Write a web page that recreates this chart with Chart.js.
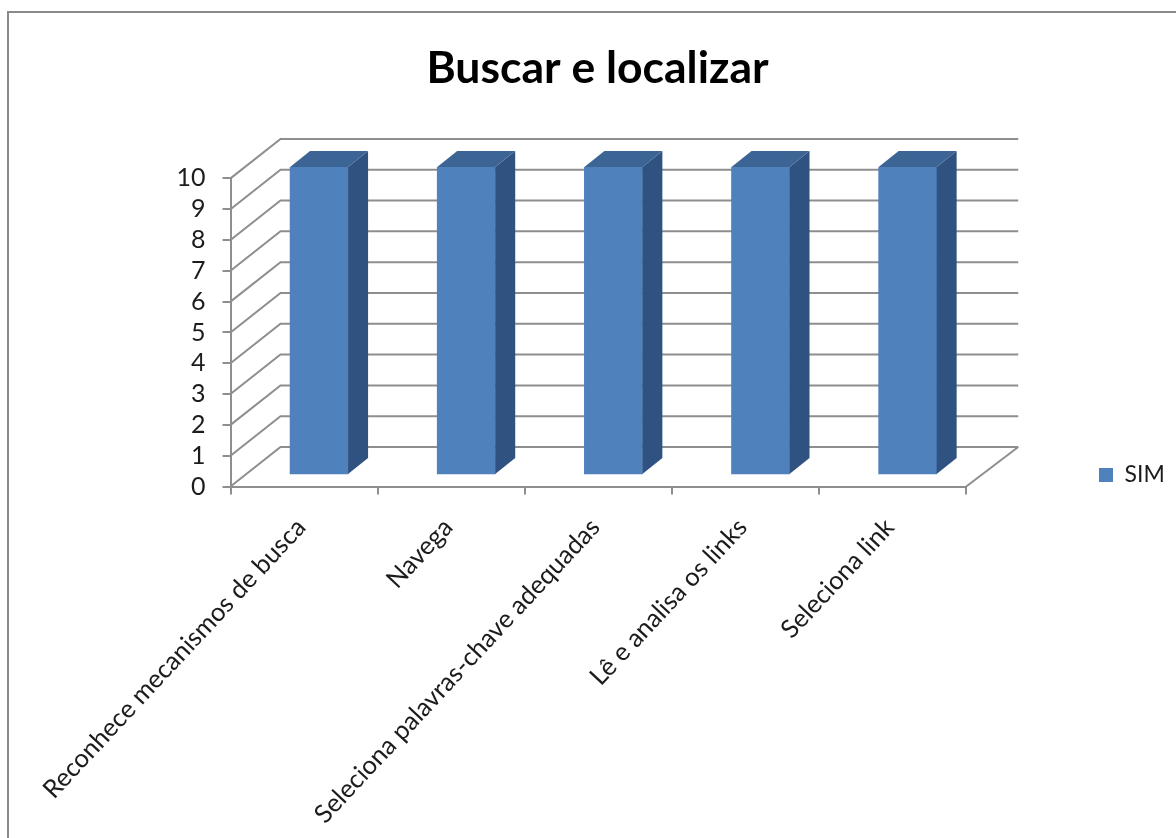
<!DOCTYPE html>
<html><head><meta charset="utf-8">
<style>
html,body{margin:0;padding:0;background:#fff;overflow:hidden}
#frame{position:absolute;left:7px;top:11px;width:1200px;height:900px;border:2px solid #8a8a8a;box-sizing:border-box}
#wrap{position:absolute;left:0;top:0;width:1176px;height:838px}
</style>
<script src="https://cdn.jsdelivr.net/npm/chart.js@4"></script>
</head><body>
<div id="frame"></div>
<div id="wrap"><canvas id="c" width="1176" height="838"></canvas></div>
<script>
const categories = ["Reconhece mecanismos de busca","Navega","Seleciona palavras-chave adequadas","Lê e analisa os links","Seleciona link"];
const simValues = [10,10,10,10,10];
const yTicks = [0,1,2,3,4,5,6,7,8,9,10];
const seriesName = "SIM";
const FONT = "Lato, 'Open Sans', sans-serif";
const GRID = "#8e8e8e", TXT = "#1c1c1c";
const FRONT = "#4F81BD", SIDE = "#2F5280", TOP = "#3C6494";
const WALL = {dx:50, dy:-39.5, rx:52};
const BAR = {sx:15, sy:-11.5, dx:20, dy:-16};

const threeD = {
  id:'threeD',
  afterLayout(chart){
    const lg = chart.legend, w = lg.right - lg.left, h = lg.bottom - lg.top;
    lg.left = 1089; lg.right = lg.left + w;
    lg.top = 475 - h/2; lg.bottom = lg.top + h;
    const t = chart.titleBlock, shift = 597.5 - (t.left + t.right)/2;
    t.left += shift; t.right += shift;
  },
  beforeDatasetsDraw(chart){
    const {ctx, scales:{x,y}} = chart;
    ctx.save();
    ctx.strokeStyle = GRID; ctx.lineWidth = 2;
    yTicks.forEach(v=>{
      const py = y.getPixelForValue(v);
      ctx.beginPath();
      ctx.moveTo(x.left, py);
      ctx.lineTo(x.left+WALL.dx, py+WALL.dy);
      ctx.lineTo(x.right+WALL.rx, py+WALL.dy);
      ctx.stroke();
    });
    const p0 = y.getPixelForValue(0);
    ctx.beginPath();
    ctx.moveTo(x.right, p0);
    ctx.lineTo(x.right+WALL.rx, p0+WALL.dy);
    ctx.stroke();
    ctx.restore();
  },
  beforeDatasetDraw(chart){
    chart.ctx.save();
    chart.ctx.translate(BAR.sx, BAR.sy);
  },
  afterDatasetDraw(chart, args){
    const ctx = chart.ctx;
    args.meta.data.forEach(b=>{
      const l=b.x-b.width/2, r=b.x+b.width/2, t=b.y, bt=b.base;
      ctx.fillStyle = SIDE;
      ctx.beginPath();
      ctx.moveTo(r,t); ctx.lineTo(r+BAR.dx,t+BAR.dy); ctx.lineTo(r+BAR.dx,bt+BAR.dy); ctx.lineTo(r,bt);
      ctx.closePath(); ctx.fill();
      ctx.fillStyle = TOP;
      ctx.beginPath();
      ctx.moveTo(l,t); ctx.lineTo(l+BAR.dx,t+BAR.dy); ctx.lineTo(r+BAR.dx,t+BAR.dy); ctx.lineTo(r,t);
      ctx.closePath(); ctx.fill();
    });
    ctx.restore();
  }
};

new Chart(document.getElementById('c'),{
  type:'bar',
  data:{labels:categories,datasets:[{label:seriesName,data:simValues,backgroundColor:FRONT,barThickness:58}]},
  plugins:[threeD],
  options:{
    responsive:false,animation:false,
    layout:{padding:{left:0,right:124,top:0,bottom:0}},
    plugins:{
      title:{display:true,text:"Buscar e localizar",color:"#000",font:{family:FONT,size:44.5,weight:'bold'},padding:{top:42,bottom:83}},
      legend:{display:true,position:'right',labels:{color:TXT,font:{family:FONT,size:23},boxWidth:14,boxHeight:14,padding:10}},
      tooltip:{enabled:false}
    },
    scales:{
      x:{
        offset:true,
        border:{color:GRID,width:2},
        grid:{drawOnChartArea:false,color:GRID,lineWidth:2,tickLength:8,offset:true},
        ticks:{color:TXT,font:{family:FONT,size:25.5},minRotation:47,maxRotation:47,autoSkip:false,padding:18,labelOffset:-3},
        afterFit(s){s.height=838-486.5;}
      },
      y:{
        min:0,max:10,
        border:{color:GRID,width:2},
        grid:{drawOnChartArea:false,color:GRID,lineWidth:2,tickLength:8},
        ticks:{color:TXT,font:{family:FONT,size:25},stepSize:1,padding:17,autoSkip:false},
        afterFit(s){s.width=230.5;}
      }
    }
  }
});
</script>
</body></html>
